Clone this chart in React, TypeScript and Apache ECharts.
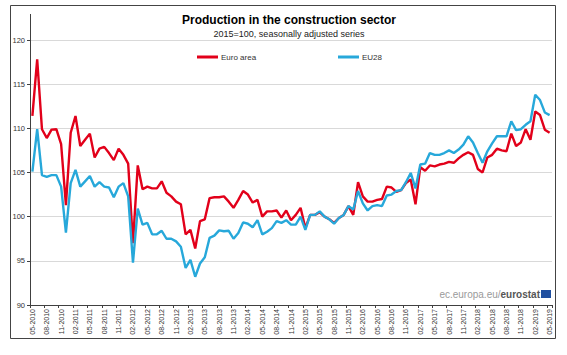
import React, { useEffect, useRef } from "react";
import * as echarts from "echarts";

const startYear = 2010;
const startMonth = 5;
const monthCount = 109;
const categories: string[] = [];
for (let k = 0; k < monthCount; k++) {
  const m = ((startMonth - 1 + k) % 12) + 1;
  const y = startYear + Math.floor((startMonth - 1 + k) / 12);
  categories.push((m < 10 ? "0" + m : "" + m) + "-" + y);
}

const euroArea = [
  111.4, 117.8, 109.9, 108.9, 109.85, 109.9, 108.2, 101.3, 109.5, 111.4,
  108.0, 108.7, 109.4, 106.7, 107.7, 107.9, 107.2, 106.4, 107.7, 107.0,
  106.0, 97.0, 105.8, 103.1, 103.4, 103.2, 103.2, 104.0, 102.7, 102.3,
  101.7, 101.4, 98.0, 98.5, 96.4, 99.5, 99.7, 102.1, 102.2, 102.2,
  102.3, 101.7, 101.0, 101.9, 102.9, 102.5, 101.6, 101.9, 100.0, 100.6,
  100.6, 100.7, 99.9, 100.7, 99.6, 100.2, 101.0, 98.7, 100.2, 100.2,
  100.5, 100.0, 99.7, 99.3, 99.85, 100.2, 101.2, 100.2, 103.9, 102.3,
  101.7, 101.7, 101.9, 102.0, 103.4, 103.3, 102.8, 103.0, 103.8, 104.2,
  101.4, 105.6, 105.2, 105.8, 105.7, 105.9, 106.0, 106.2, 106.1, 106.6,
  107.0, 107.3, 107.0, 105.4, 105.0, 106.7, 107.0, 107.7, 107.5, 107.4,
  109.4, 108.0, 108.4, 109.9, 108.7, 111.9, 111.5, 109.85, 109.5,
];

const eu28 = [
  105.1, 109.9, 104.7, 104.5, 104.7, 104.7, 103.4, 98.2, 103.8, 105.3,
  103.4, 104.0, 104.6, 103.4, 103.9, 103.4, 103.3, 102.2, 103.4, 103.8,
  102.3, 94.8, 100.9, 99.1, 99.3, 98.0, 98.0, 98.4, 97.5, 97.5,
  97.2, 96.6, 94.2, 95.1, 93.2, 94.7, 95.4, 97.6, 97.85, 98.45,
  98.35, 98.4, 97.5, 98.15, 99.35, 99.2, 98.8, 99.6, 98.0, 98.3,
  98.7, 99.5, 99.3, 99.6, 99.1, 99.1, 100.0, 98.5, 100.2, 100.2,
  100.6, 100.0, 99.7, 99.2, 99.85, 100.2, 101.2, 100.8, 102.9, 101.5,
  100.7, 101.2, 101.3, 101.2, 102.4, 102.5, 102.9, 103.0, 103.9, 104.95,
  103.2, 105.9, 106.0, 107.2, 107.0, 107.0, 107.2, 107.5, 107.2, 107.6,
  108.15, 109.1, 108.4, 107.2, 106.1, 107.4, 108.3, 109.1, 109.1, 109.1,
  110.8, 109.8, 109.9, 110.4, 110.8, 113.8, 113.2, 111.8, 111.5,
];

const seriesNames = ["Euro area", "EU28"];
const seriesColors = ["#E2001A", "#27A8DA"];
const titleText = "Production in the construction sector";
const subtitleText = "2015=100, seasonally adjusted series";

export default function App() {
  const ref = useRef<HTMLDivElement>(null);
  useEffect(() => {
    if (!ref.current) return;
    const chart = echarts.init(ref.current, undefined, { renderer: "svg" });
    const font = "'Liberation Sans', Arial, sans-serif";
    chart.setOption({
      animation: false,
      backgroundColor: "#ffffff",
      textStyle: { fontFamily: font },
      title: {
        text: titleText,
        subtext: subtitleText,
        left: 284,
        textAlign: "center",
        top: 9,
        itemGap: 3,
        textStyle: { fontFamily: font, fontSize: 12, fontWeight: "bold", color: "#000" },
        subtextStyle: { fontFamily: font, fontSize: 9, color: "#222" },
      },
      legend: [
        {
          data: [seriesNames[0]],
          left: 192,
          top: 48,
          icon: "rect",
          itemWidth: 21,
          itemHeight: 3,
          itemGap: 3,
          textStyle: { fontFamily: font, fontSize: 8, color: "#333", padding: [0, 0, 0, -2] },
        },
        {
          data: [seriesNames[1]],
          left: 333,
          top: 48,
          icon: "rect",
          itemWidth: 21,
          itemHeight: 3,
          textStyle: { fontFamily: font, fontSize: 8, color: "#333", padding: [0, 0, 0, -2] },
        },
      ],
      grid: { left: 30, right: 15, top: 40, bottom: 50, containLabel: false },
      xAxis: {
        type: "category",
        data: categories,
        boundaryGap: true,
        axisLine: { lineStyle: { color: "#404040", width: 1 } },
        axisTick: { show: true, interval: 2, length: 3, lineStyle: { color: "#404040" } },
        axisLabel: {
          interval: 2,
          rotate: 90,
          fontSize: 7,
          color: "#333",
          margin: 4,
          fontFamily: font,
        },
        splitLine: { show: false },
      },
      yAxis: {
        type: "value",
        min: 90,
        max: 120,
        interval: 5,
        axisLine: { show: true, lineStyle: { color: "#404040", width: 1 } },
        axisTick: { show: true, length: 3, lineStyle: { color: "#404040" } },
        axisLabel: { fontSize: 7.5, color: "#333", margin: 5, fontFamily: font },
        splitLine: { show: true, lineStyle: { color: "#D9D9D9", width: 1 } },
      },
      series: [
        {
          name: seriesNames[0],
          type: "line",
          data: euroArea,
          showSymbol: false,
          symbol: "none",
          lineStyle: { color: seriesColors[0], width: 2.4 },
          itemStyle: { color: seriesColors[0] },
          z: 2,
        },
        {
          name: seriesNames[1],
          type: "line",
          data: eu28,
          showSymbol: false,
          symbol: "none",
          lineStyle: { color: seriesColors[1], width: 2.4 },
          itemStyle: { color: seriesColors[1] },
          z: 3,
        },
      ],
      graphic: [
        {
          type: "rect",
          shape: { x: 10.5, y: 5.5, width: 545, height: 333 },
          style: { fill: "none", stroke: "#444", lineWidth: 1 },
          silent: true,
        },
        {
          type: "line",
          shape: { x1: 30.5, y1: 14, x2: 30.5, y2: 40 },
          style: { stroke: "#404040", lineWidth: 1 },
          silent: true,
        },
        {
          type: "text",
          right: 27,
          top: 289,
          style: {
            text: "{a|ec.europa.eu/}{b|eurostat}",
            rich: {
              a: { fontFamily: font, fontSize: 10, fill: "#9a9a9a" },
              b: { fontFamily: font, fontSize: 10, fontWeight: "bold", fill: "#555" },
            },
          },
          silent: true,
        },
        {
          type: "rect",
          shape: { x: 541, y: 290, width: 10, height: 8 },
          style: { fill: "#1F4FA0" },
          silent: true,
        },
      ],
    });
    return () => chart.dispose();
  }, []);
  return (
    <div
      ref={ref}
      style={{ position: "fixed", left: 0, top: 0, width: 567, height: 355, background: "#fff" }}
    />
  );
}
